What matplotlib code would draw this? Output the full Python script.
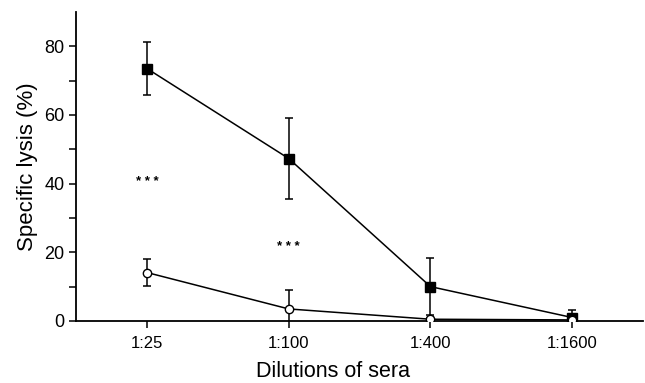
import matplotlib
matplotlib.use("Agg")
import matplotlib.pyplot as plt
import numpy as np

plt.rcParams['font.family'] = ['Liberation Sans', 'DejaVu Sans']

dilutions = ["1:25", "1:100", "1:400", "1:1600"]
immune = [73.5, 47.3, 10.0, 1.0]
immune_err = [7.8, 11.7, 8.3, 2.2]
control = [14.1, 3.5, 0.5, 0.3]
control_err = [3.9, 5.5, 0.5, 0.5]
sig_labels = ["* * *", "* * *"]
sig_y = [40.5, 21.5]

fig = plt.figure(figsize=(6.45, 3.83), dpi=100)
ax = fig.add_axes([0.118, 0.162, 0.879, 0.807])
x = np.arange(len(dilutions))

ax.errorbar(x, immune, yerr=immune_err, fmt='-s', color='black', mfc='black',
            markersize=6.5, linewidth=1.1, elinewidth=1.1, capsize=3, capthick=1.1, zorder=3)
ax.errorbar(x, control, yerr=control_err, fmt='-o', color='black', mfc='white',
            markersize=6, linewidth=1.1, elinewidth=1.1, capsize=3, capthick=1.1, zorder=3)

for xi, lab, yv in zip(x[:2], sig_labels, sig_y):
    ax.text(xi, yv, lab, ha='center', va='center', fontsize=9.5, fontweight='bold')

ax.set_xlim(-0.5, 3.5)
ax.set_ylim(0, 90)
ax.set_xticks(x)
ax.set_xticklabels(dilutions, fontsize=12)
ax.set_yticks([0, 20, 40, 60, 80])
ax.set_yticks([10, 30, 50, 70], minor=True)
ax.tick_params(axis='y', which='both', direction='out', length=5, width=1.1, labelsize=13)
ax.tick_params(axis='x', direction='out', length=5, width=1.1, pad=6)
for s in ['top', 'right']:
    ax.spines[s].set_visible(False)
for s in ['left', 'bottom']:
    ax.spines[s].set_linewidth(1.3)
ax.set_ylabel("Specific lysis (%)", fontsize=16)
ax.yaxis.set_label_coords(-0.068, 0.5)
ax.set_xlabel("Dilutions of sera", fontsize=15.5)
ax.xaxis.set_label_coords(0.453, -0.128)

fig.savefig("out.png", dpi=100)
